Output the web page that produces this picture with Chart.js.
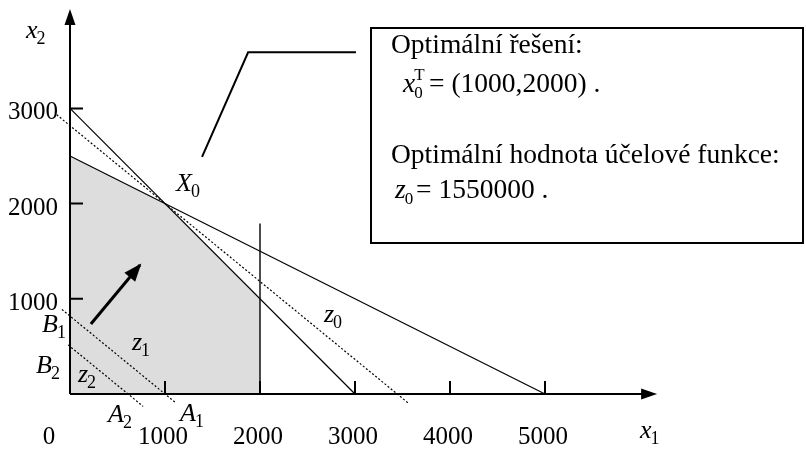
<!DOCTYPE html>
<html lang="cs">
<head>
<meta charset="UTF-8">
<title>Grafické řešení úlohy LP</title>
<style>
  body { margin: 0; background: #ffffff; }
  #wrap { width: 806px; height: 449px; }
</style>
<script src="https://cdn.jsdelivr.net/npm/chart.js"></script>
</head>
<body>
<div id="wrap"><canvas id="lpChart" width="806" height="449"></canvas></div>
<script>
// tick values and labels
const xTicks = [1000, 2000, 3000, 4000, 5000];
const yTicks = [1000, 2000, 3000];
const xTickLabels = ['1000', '2000', '3000', '4000', '5000'];
const yTickLabels = ['1000', '2000', '3000'];

// feasible region (x1, x2)
const feasibleX = [0, 0, 1000, 2000, 2000];
const feasibleY = [0, 2500, 2000, 1000, 0];

// constraint lines
const cap1X = [0, 3000];     const cap1Y = [3000, 0];
const cap2X = [0, 5000];     const cap2Y = [2500, 0];
const cap3X = [2000, 2000];  const cap3Y = [0, 1790];

// objective isolines z0, z1, z2
const z0X = [-140, 3570];    const z0Y = [2933, -103];
const z1X = [-85, 1115];     const z1Y = [888, -94];
const z2X = [-20, 770];      const z2Y = [516, -130];

// gradient arrow and leader line to X0
const arrowX = [220, 737];   const arrowY = [735, 1355];
const leaderX = [1390, 1875, 3010]; const leaderY = [2490, 3590, 3590];

// axis ends
const axisEndX = 6180;
const axisEndY = 4045;

const SERIF = '"Liberation Serif", "Times New Roman", serif';

function pts(xs, ys) {
    return xs.map((x, i) => ({ x: x, y: ys[i] }));
}

function lineSet(xs, ys, width, dash) {
    return {
        data: pts(xs, ys),
        showLine: true,
        borderColor: '#000000',
        borderWidth: width,
        borderDash: dash || [],
        pointRadius: 0,
        fill: false,
        order: 1
    };
}

// italic variable with upright subscript (and optional superscript)
function drawVar(ctx, main, sub, x, y, size, subSize, sup) {
    ctx.font = 'italic ' + size + 'px ' + SERIF;
    ctx.textAlign = 'left';
    ctx.fillText(main, x, y);
    const w = ctx.measureText(main).width;
    ctx.font = subSize + 'px ' + SERIF;
    ctx.fillText(sub, x + w - 1, y + subSize * 0.35);
    if (sup) ctx.fillText(sup, x + w - 1, y - size * 0.45);
}

const drawExtras = {
    id: 'drawExtras',
    afterDatasetsDraw(chart) {
        const ctx = chart.ctx;
        const sx = chart.scales.x, sy = chart.scales.y;
        const ox = sx.getPixelForValue(0), oy = sy.getPixelForValue(0);
        const ex = sx.getPixelForValue(axisEndX), ey = sy.getPixelForValue(axisEndY);
        ctx.save();
        ctx.strokeStyle = '#000';
        ctx.fillStyle = '#000';
        ctx.lineWidth = 2;

        // axes
        ctx.beginPath();
        ctx.moveTo(ox, oy); ctx.lineTo(ex - 10, oy);
        ctx.moveTo(ox, oy); ctx.lineTo(ox, ey + 10);
        ctx.stroke();
        ctx.beginPath();
        ctx.moveTo(ex, oy); ctx.lineTo(ex - 16, oy - 5.5); ctx.lineTo(ex - 16, oy + 5.5);
        ctx.closePath(); ctx.fill();
        ctx.beginPath();
        ctx.moveTo(ox, ey); ctx.lineTo(ox - 5.5, ey + 16); ctx.lineTo(ox + 5.5, ey + 16);
        ctx.closePath(); ctx.fill();

        // tick marks
        ctx.beginPath();
        xTicks.forEach(v => {
            const p = sx.getPixelForValue(v);
            ctx.moveTo(p, oy); ctx.lineTo(p, oy - 13);
        });
        yTicks.forEach(v => {
            const p = sy.getPixelForValue(v);
            ctx.moveTo(ox, p); ctx.lineTo(ox + 13, p);
        });
        ctx.stroke();

        // tick labels
        ctx.font = '25px ' + SERIF;
        ctx.textBaseline = 'alphabetic';
        ctx.textAlign = 'center';
        ctx.fillText('0', ox - 21, oy + 50);
        xTicks.forEach((v, i) => {
            ctx.fillText(xTickLabels[i], sx.getPixelForValue(v) - 2, oy + 50);
        });
        ctx.textAlign = 'right';
        yTicks.forEach((v, i) => {
            ctx.fillText(yTickLabels[i], ox - 12, sy.getPixelForValue(v) + 11);
        });

        // gradient arrow head
        const tx = sx.getPixelForValue(arrowX[1]), ty = sy.getPixelForValue(arrowY[1]);
        const fx = sx.getPixelForValue(arrowX[0]), fy = sy.getPixelForValue(arrowY[0]);
        const ang = Math.atan2(ty - fy, tx - fx);
        ctx.beginPath();
        ctx.moveTo(tx + 2 * Math.cos(ang), ty + 2 * Math.sin(ang));
        ctx.lineTo(tx - 16 * Math.cos(ang) + 7 * Math.sin(ang), ty - 16 * Math.sin(ang) - 7 * Math.cos(ang));
        ctx.lineTo(tx - 16 * Math.cos(ang) - 7 * Math.sin(ang), ty - 16 * Math.sin(ang) + 7 * Math.cos(ang));
        ctx.closePath(); ctx.fill();

        // labels in the plot
        drawVar(ctx, 'x', '2', 26, 38, 26, 18);
        drawVar(ctx, 'x', '1', 640, 438, 26, 18);
        drawVar(ctx, 'X', '0', 176, 191, 26, 18);
        drawVar(ctx, 'z', '0', 324, 322, 26, 18);
        drawVar(ctx, 'z', '1', 132, 350, 26, 18);
        drawVar(ctx, 'z', '2', 78, 382, 26, 18);
        drawVar(ctx, 'B', '1', 42, 332, 26, 18);
        drawVar(ctx, 'B', '2', 36, 373, 26, 18);
        drawVar(ctx, 'A', '2', 108, 422, 26, 18);
        drawVar(ctx, 'A', '1', 180, 421, 26, 18);

        // result box
        ctx.lineWidth = 2;
        ctx.strokeRect(371, 28, 432, 215);
        ctx.font = '27.5px ' + SERIF;
        ctx.textAlign = 'left';
        ctx.fillText('Optimální řešení:', 391, 53);
        drawVar(ctx, 'x', '0', 403, 92, 27.5, 17, 'T');
        ctx.font = '27.5px ' + SERIF;
        ctx.fillText('= (1000,2000) .', 429, 92);
        ctx.fillText('Optimální hodnota účelové funkce:', 391, 163);
        drawVar(ctx, 'z', '0', 395, 198, 27.5, 17);
        ctx.font = '27.5px ' + SERIF;
        ctx.fillText('= 1550000 .', 416, 198);
        ctx.restore();
    }
};

const datasets = [
    {
        data: pts(feasibleX, feasibleY),
        showLine: true,
        borderWidth: 0,
        borderColor: 'rgba(0,0,0,0)',
        backgroundColor: '#dddddd',
        pointRadius: 0,
        fill: 'origin',
        order: 10
    },
    lineSet(cap1X, cap1Y, 1.2),
    lineSet(cap2X, cap2Y, 1.2),
    lineSet(cap3X, cap3Y, 1.4),
    lineSet(z0X, z0Y, 1.2, [2, 2]),
    lineSet(z1X, z1Y, 1.2, [2, 2]),
    lineSet(z2X, z2Y, 1.2, [2, 2]),
    lineSet(arrowX, arrowY, 3),
    lineSet(leaderX, leaderY, 2)
];

// 95 px per 1000 units, origin at pixel (70, 394)
const ctx = document.getElementById('lpChart').getContext('2d');
new Chart(ctx, {
    type: 'scatter',
    data: { datasets: datasets },
    options: {
        responsive: false,
        animation: false,
        layout: { padding: 0 },
        plugins: { legend: { display: false }, tooltip: { enabled: false } },
        scales: {
            x: { type: 'linear', display: false, min: -736.84, max: 7747.37 },
            y: { type: 'linear', display: false, min: -577.73, max: 4138.66 }
        }
    },
    plugins: [drawExtras]
});
</script>
</body>
</html>
